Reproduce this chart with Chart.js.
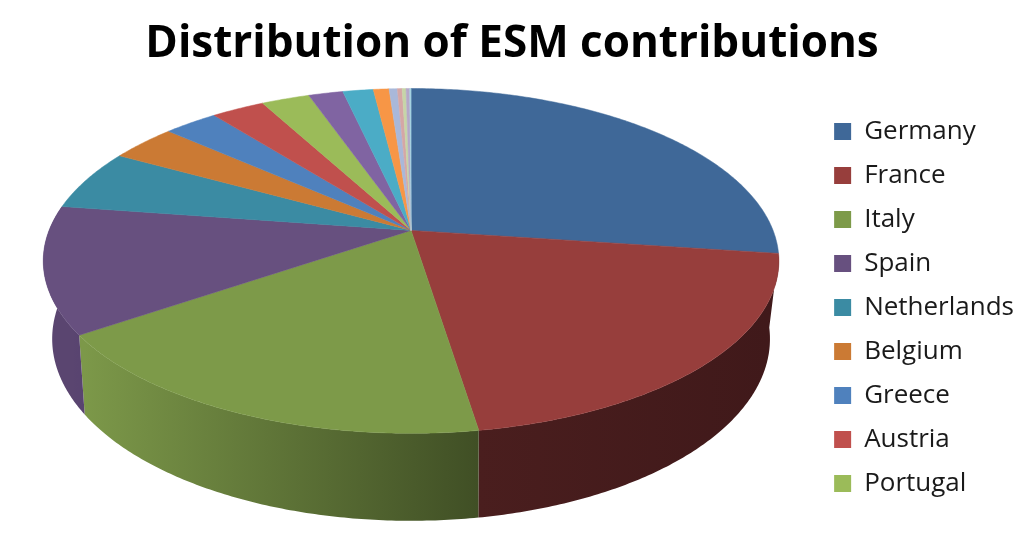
<!DOCTYPE html>
<html>
<head>
<meta charset="utf-8">
<style>
  html, body { margin: 0; padding: 0; background: #fff; }
  #wrap { width: 1024px; height: 536px; }
</style>
<script src="https://cdn.jsdelivr.net/npm/chart.js@4"></script>
</head>
<body>
<div id="wrap"><canvas id="pieChart" width="1024" height="536"></canvas></div>
<script>
const countries = ['Germany', 'France', 'Italy', 'Spain', 'Netherlands', 'Belgium', 'Greece', 'Austria', 'Portugal',
    'Finland', 'Ireland', 'Slovakia', 'Slovenia', 'Luxembourg', 'Cyprus', 'Estonia', 'Malta'];
const shares = [27.15, 20.39, 17.91, 11.90, 5.72, 3.48, 2.82, 2.78, 2.51, 1.80, 1.59, 0.82, 0.43, 0.25, 0.20, 0.19, 0.07];
const topColors = ['#3f6898', '#973e3c', '#7d9a49', '#67507f', '#3b8ba3', '#cb7a34', '#4f81bd', '#c0504d', '#9bbb59',
    '#8064a2', '#4bacc6', '#f79646', '#a9b8d9', '#d5a7a6', '#c6d5a8', '#b5a8c8', '#a5d3e0'];
const legendCount = 9;

// the pie is tilted with perspective, so the two rims are not plain ellipses
const topRim = { rx: 362, ry: 167, k: 0.177, dy: 0 };
const baseRim = { rx: 352, ry: 175, k: 0.195, dy: 73 };
const apexShift = { x: 3, y: -76 };
// side wall colours, left end and right end of each slice
const wallColors = { 1: ['#4a1e1e', '#40191a'], 2: ['#7c9849', '#404f25'], 3: ['#5a4570', '#584370'] };

function rimPoint(arc, rim, angle) {
    const u = Math.cos(angle), v = Math.sin(angle), w = 1 - rim.k * v;
    return [arc.x + apexShift.x + rim.rx * u / w, arc.y + apexShift.y + rim.dy + rim.ry * v / w];
}

function traceRim(ctx, arc, rim, from, to) {
    const steps = Math.max(2, Math.ceil(Math.abs(to - from) / 0.01));
    for (let i = 0; i <= steps; i++) {
        const p = rimPoint(arc, rim, from + (to - from) * i / steps);
        ctx.lineTo(p[0], p[1]);
    }
}

const tiltedPie = {
    id: 'tiltedPie',
    beforeDatasetDraw(chart, args) {
        const ctx = chart.ctx;
        const arcs = args.meta.data;
        // walls first, the top faces cover whatever is behind
        arcs.forEach((arc, i) => {
            const colors = wallColors[i];
            if (!colors) return;
            const a = rimPoint(arc, baseRim, arc.endAngle), b = rimPoint(arc, baseRim, arc.startAngle);
            const grad = ctx.createLinearGradient(Math.min(a[0], b[0]), 0, Math.max(a[0], b[0]), 0);
            grad.addColorStop(0, colors[0]);
            grad.addColorStop(1, colors[1]);
            ctx.beginPath();
            traceRim(ctx, arc, topRim, arc.startAngle, arc.endAngle);
            traceRim(ctx, arc, baseRim, arc.endAngle, arc.startAngle);
            ctx.closePath();
            ctx.fillStyle = grad;
            ctx.fill();
        });
        arcs.forEach((arc, i) => {
            const c = [arc.x + apexShift.x, arc.y + apexShift.y];
            ctx.beginPath();
            ctx.moveTo(c[0], c[1]);
            traceRim(ctx, arc, topRim, arc.startAngle, arc.endAngle);
            ctx.closePath();
            ctx.fillStyle = topColors[i];
            ctx.strokeStyle = topColors[i];
            ctx.lineWidth = 0.5;
            ctx.fill();
            ctx.stroke();
        });
        return false;
    }
};

new Chart(document.getElementById('pieChart').getContext('2d'), {
    type: 'pie',
    data: {
        labels: countries,
        datasets: [{ data: shares, backgroundColor: topColors, borderWidth: 0 }]
    },
    options: {
        responsive: false,
        animation: false,
        plugins: {
            title: {
                display: true,
                text: 'Distribution of ESM contributions',
                color: '#000',
                font: { family: 'Open Sans', size: 44, weight: 'bold' },
                padding: { top: 18, bottom: 6 }
            },
            legend: {
                position: 'right',
                // empty legend title only pushes the rows down
                title: { display: true, text: ' ', font: { size: 4 }, padding: { top: 74, bottom: 0 } },
                labels: {
                    color: '#1a1a1a',
                    font: { family: 'Open Sans', size: 26 },
                    boxWidth: 17,
                    boxHeight: 17,
                    padding: 18,
                    filter: (item) => item.index < legendCount
                }
            },
            tooltip: { enabled: false }
        }
    },
    plugins: [tiltedPie]
});
</script>
</body>
</html>
